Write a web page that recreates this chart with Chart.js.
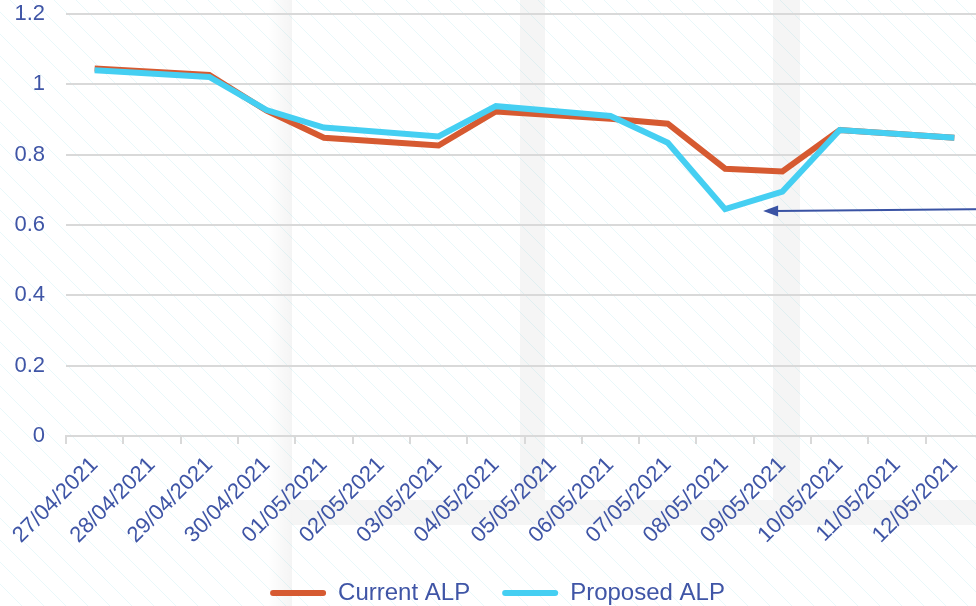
<!DOCTYPE html>
<html>
<head>
<meta charset="utf-8">
<script src="https://cdn.jsdelivr.net/npm/chart.js@4.4.0/dist/chart.umd.min.js"></script>
<style>
  html, body { margin: 0; padding: 0; background: #fff; }
  #wrap { width: 976px; height: 606px; overflow: hidden; position: relative; }
  canvas { display: block; }
</style>
</head>
<body>
<div id="wrap"><canvas id="alp" width="1000" height="606"></canvas></div>
<script>
// dates on the x axis
const days = ['27/04/2021', '28/04/2021', '29/04/2021', '30/04/2021', '01/05/2021', '02/05/2021',
  '03/05/2021', '04/05/2021', '05/05/2021', '06/05/2021', '07/05/2021', '08/05/2021',
  '09/05/2021', '10/05/2021', '11/05/2021', '12/05/2021'];
// null = no reading that day, line just runs across
const currentALP = [1.045, null, 1.027, 0.925, 0.848, null, 0.826, 0.923, null, 0.902, 0.888, 0.760, 0.752, 0.870, null, 0.848];
const proposedALP = [1.040, null, 1.021, 0.927, 0.877, null, 0.852, 0.938, null, 0.910, 0.834, 0.645, 0.695, 0.870, null, 0.848];
const yTicks = [0, 0.2, 0.4, 0.6, 0.8, 1, 1.2];

const blue = '#3f55a6';
const gridGrey = '#d9d9d9';
const font = 'Liberation Sans, Arial, sans-serif';

// faint slide background: hatching + some grey bands
const backdrop = {
  id: 'backdrop',
  beforeDraw(chart) {
    const ctx = chart.ctx;
    const w = chart.width, h = chart.height;
    ctx.save();
    ctx.fillStyle = '#fff';
    ctx.fillRect(0, 0, w, h);
    ctx.fillStyle = 'rgba(0,0,0,0.04)';
    ctx.fillRect(520, 0, 25, 500);
    ctx.fillRect(773, 0, 27, 500);
    ctx.fillRect(292, 500, w, 25);
    let g = ctx.createLinearGradient(268, 0, 292, 0);
    g.addColorStop(0, 'rgba(0,0,0,0)');
    g.addColorStop(1, 'rgba(0,0,0,0.045)');
    ctx.fillStyle = g;
    ctx.fillRect(268, 0, 24, h);
    ctx.strokeStyle = 'rgba(120,210,225,0.16)';
    ctx.lineWidth = 1;
    for (let x = -h; x < w; x += 22) {
      ctx.beginPath();
      ctx.moveTo(x, 0);
      ctx.lineTo(x + h, h);
      ctx.stroke();
    }
    ctx.restore();
  }
};

// arrow pointing at the 08/05 dip
const arrow = {
  id: 'arrow',
  afterDatasetsDraw(chart) {
    const xs = chart.scales.x, ys = chart.scales.y;
    const tipX = xs.getPixelForValue(11) + 38;
    const tipY = ys.getPixelForValue(0.64);
    const ctx = chart.ctx;
    ctx.save();
    ctx.strokeStyle = '#3a53a4';
    ctx.fillStyle = '#3a53a4';
    ctx.lineWidth = 2;
    ctx.beginPath();
    ctx.moveTo(tipX + 12, tipY);
    ctx.lineTo(chart.width, tipY - 2);
    ctx.stroke();
    ctx.beginPath();
    ctx.moveTo(tipX, tipY);
    ctx.lineTo(tipX + 15, tipY - 5.5);
    ctx.lineTo(tipX + 15, tipY + 5.5);
    ctx.closePath();
    ctx.fill();
    ctx.restore();
  }
};

new Chart(document.getElementById('alp'), {
  type: 'line',
  data: {
    labels: days,
    datasets: [
      {
        label: 'Current ALP',
        data: currentALP,
        borderColor: '#d65a31',
        backgroundColor: '#d65a31',
        borderWidth: 6,
        pointRadius: 0,
        tension: 0,
        spanGaps: true,
        order: 1
      },
      {
        label: 'Proposed ALP',
        data: proposedALP,
        borderColor: '#45cff2',
        backgroundColor: '#45cff2',
        borderWidth: 6,
        pointRadius: 0,
        tension: 0,
        spanGaps: true,
        order: 0
      }
    ]
  },
  options: {
    responsive: false,
    animation: false,
    layout: { padding: { left: 12, right: 17, top: 14, bottom: -9 } },
    plugins: {
      tooltip: { enabled: false },
      legend: {
        position: 'bottom',
        labels: {
          color: blue,
          font: { family: font, size: 24 },
          boxWidth: 56,
          boxHeight: 6,
          padding: 32,
          useBorderRadius: true,
          borderRadius: 3,
          sort: (a, b) => a.datasetIndex - b.datasetIndex,
          generateLabels(chart) {
            const items = Chart.defaults.plugins.legend.labels.generateLabels(chart);
            items.forEach(it => { it.lineWidth = 0; });
            return items;
          }
        }
      }
    },
    scales: {
      x: {
        offset: true,
        grid: {
          drawOnChartArea: false,
          offset: true,
          color: gridGrey,
          lineWidth: 2,
          tickLength: 8
        },
        border: { color: gridGrey, width: 2 },
        ticks: {
          color: blue,
          font: { family: font, size: 22 },
          maxRotation: 45,
          minRotation: 45,
          padding: 8,
          autoSkip: false
        },
        afterFit(scale) { scale.height = 113; }
      },
      y: {
        min: 0,
        max: 1.2,
        afterBuildTicks(scale) { scale.ticks = yTicks.map(v => ({ value: v })); },
        grid: { color: gridGrey, lineWidth: 2, drawTicks: true, tickLength: 21, tickColor: 'rgba(0,0,0,0)' },
        border: { display: false },
        ticks: {
          color: blue,
          font: { family: font, size: 22 },
          padding: 0,
          callback: v => String(Math.round(v * 10) / 10)
        },
        afterFit(scale) { scale.width = 54; }
      }
    }
  },
  plugins: [backdrop, arrow]
});
</script>
</body>
</html>
